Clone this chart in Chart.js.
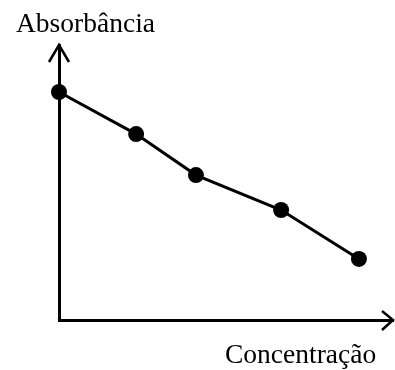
<!DOCTYPE html>
<html>
<head>
<meta charset="utf-8">
<script src="https://cdn.jsdelivr.net/npm/chart.js@4"></script>
<style>
html,body{margin:0;padding:0;background:#fff;}
#wrap{width:395px;height:370px;}
</style>
</head>
<body>
<div id="wrap"><canvas id="c" width="395" height="370"></canvas></div>
<script>
const concentration = [0, 2.31, 4.1, 6.65, 8.98];
const absorbance = [8.29, 6.76, 5.27, 4.0, 2.22];
const xAxisLabel = 'Concentração';
const yAxisLabel = 'Absorbância';

const arrowsAndLabels = {
  id: 'arrowsAndLabels',
  afterDraw(chart) {
    const ctx = chart.ctx;
    const a = chart.chartArea;
    ctx.save();
    ctx.strokeStyle = '#000';
    ctx.lineWidth = 2.5;
    ctx.lineCap = 'butt';
    ctx.lineJoin = 'miter';
    // y arrow head
    ctx.beginPath();
    ctx.moveTo(a.left - 10, a.top + 17);
    ctx.lineTo(a.left, a.top);
    ctx.lineTo(a.left + 10, a.top + 17);
    ctx.stroke();
    // x arrow head
    ctx.beginPath();
    ctx.moveTo(a.right - 11, a.bottom - 9);
    ctx.lineTo(a.right, a.bottom);
    ctx.lineTo(a.right - 11, a.bottom + 10);
    ctx.stroke();
    ctx.fillStyle = '#000';
    ctx.font = '27.5px "Liberation Serif", "Times New Roman", serif';
    ctx.textBaseline = 'alphabetic';
    ctx.textAlign = 'left';
    ctx.fillText(yAxisLabel, 16, 32);
    ctx.fillText(xAxisLabel, 225, 363);
    ctx.restore();
  }
};

new Chart(document.getElementById('c'), {
  type: 'line',
  data: {
    datasets: [{
      data: concentration.map((x, i) => ({x: x, y: absorbance[i]})),
      borderColor: '#000',
      backgroundColor: '#000',
      borderWidth: 3,
      pointRadius: 8,
      pointBackgroundColor: '#000',
      pointBorderWidth: 0,
      tension: 0,
      clip: false
    }]
  },
  options: {
    responsive: false,
    animation: false,
    devicePixelRatio: 1,
    layout: { autoPadding: false, padding: { left: 59, top: 45, right: 2, bottom: 50 } },
    plugins: { legend: { display: false }, tooltip: { enabled: false }, title: { display: false } },
    scales: {
      x: {
        type: 'linear', min: 0, max: 10,
        ticks: { display: false },
        grid: { display: false, drawTicks: false },
        border: { display: true, color: '#000', width: 3 }
      },
      y: {
        type: 'linear', min: 0, max: 10,
        ticks: { display: false },
        grid: { display: false, drawTicks: false },
        border: { display: true, color: '#000', width: 3 }
      }
    }
  },
  plugins: [arrowsAndLabels]
});
</script>
</body>
</html>
